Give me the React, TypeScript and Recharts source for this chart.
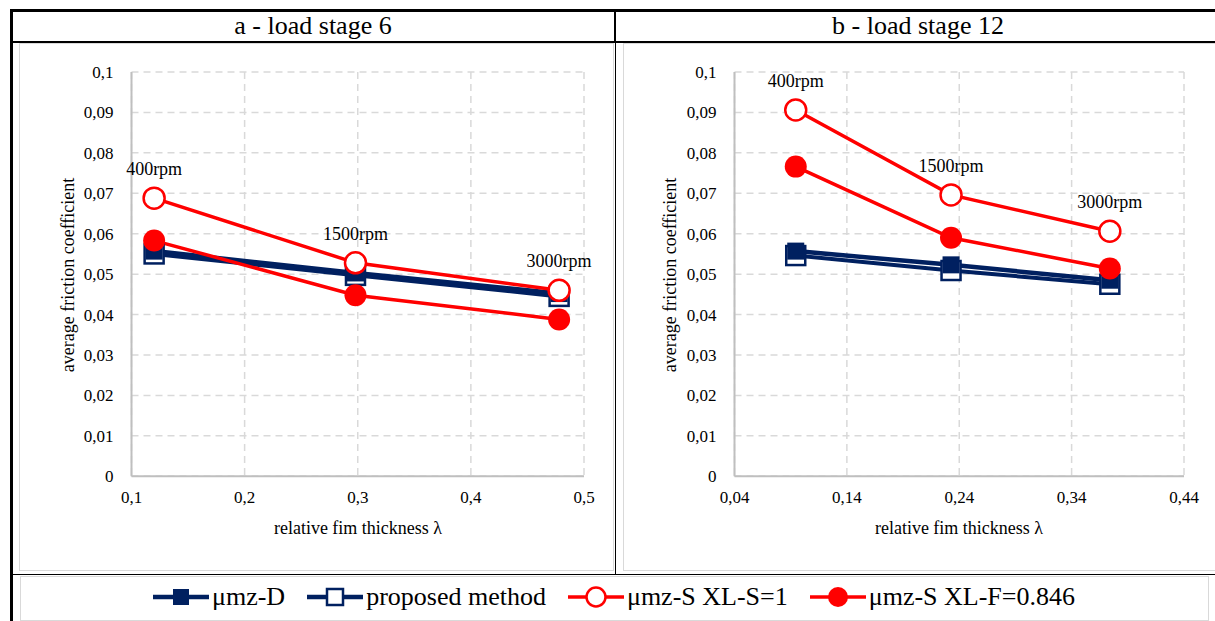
import React from 'react';
import { LineChart, Line, XAxis, YAxis, CartesianGrid, LabelList } from 'recharts';

// ---- data ----
const rpmLabels = ['400rpm', '1500rpm', '3000rpm'];

const lambdaA = [0.12, 0.298, 0.478];
const muD_A = [0.0557, 0.0503, 0.0452];
const proposed_A = [0.055, 0.0497, 0.0445];
const xlS_A = [0.0688, 0.0528, 0.046];
const xlF_A = [0.0583, 0.0448, 0.0388];

const lambdaB = [0.0945, 0.2327, 0.374];
const muD_B = [0.0557, 0.0523, 0.0485];
const proposed_B = [0.0546, 0.0509, 0.0475];
const xlS_B = [0.0906, 0.0696, 0.0606];
const xlF_B = [0.0766, 0.059, 0.0514];

const xTicksA = [0.1, 0.2, 0.3, 0.4, 0.5];
const xTicksB = [0.04, 0.14, 0.24, 0.34, 0.44];
const yTicks = [0, 0.01, 0.02, 0.03, 0.04, 0.05, 0.06, 0.07, 0.08, 0.09, 0.1];

const seriesNames = ['μmz-D', 'proposed method', 'μmz-S XL-S=1', 'μmz-S XL-F=0.846'];

// ---- style ----
const NAVY = '#002060';
const RED = '#FF0000';
const FONT = "'Liberation Serif', 'DejaVu Serif', serif";

const toRows = (xs: number[], ys: number[]) =>
  xs.map((x, i) => ({ x, y: ys[i], rpm: rpmLabels[i] }));

const fmt = (v: number) => (v === 0 ? '0' : String(v).replace('.', ','));

const FilledSquare = (p: any) => {
  const { cx, cy, index } = p;
  if (cx == null || cy == null) return <g key={index} />;
  return <rect key={index} x={cx - 8.5} y={cy - 8.5} width={17} height={17} fill={NAVY} />;
};
const OpenSquare = (p: any) => {
  const { cx, cy, index } = p;
  if (cx == null || cy == null) return <g key={index} />;
  return (
    <rect key={index} x={cx - 9.5} y={cy - 9.5} width={19} height={19} fill="#fff" stroke={NAVY} strokeWidth={2.5} />
  );
};
const OpenCircle = (p: any) => {
  const { cx, cy, index } = p;
  if (cx == null || cy == null) return <g key={index} />;
  return <circle key={index} cx={cx} cy={cy} r={10.5} fill="#fff" stroke={RED} strokeWidth={2.5} />;
};
const FilledCircle = (p: any) => {
  const { cx, cy, index } = p;
  if (cx == null || cy == null) return <g key={index} />;
  return <circle key={index} cx={cx} cy={cy} r={11} fill={RED} />;
};

const RpmLabel = (p: any) => {
  const { x, y, value } = p;
  return (
    <text x={x} y={y - 29 + 6} textAnchor="middle" style={{ fontFamily: FONT }} fontSize={18} fill="#000">
      {value}
    </text>
  );
};

type PanelProps = {
  left: number;
  width: number;
  marginLeft: number;
  marginRight: number;
  xs: number[];
  xTicks: number[];
  muD: number[];
  proposed: number[];
  xlS: number[];
  xlF: number[];
};

const Panel = ({ left, width, marginLeft, marginRight, xs, xTicks, muD, proposed, xlS, xlF }: PanelProps) => {
  const tickStyle = { fontFamily: FONT, fontSize: 17, fill: '#000', style: { fontFamily: FONT } };
  return (
    <div style={{ position: 'absolute', left, top: 0, fontFamily: FONT }}>
      <LineChart
        width={width}
        height={570}
        margin={{ top: 72, right: marginRight, left: marginLeft, bottom: 33.7 }}
        style={{ fontFamily: FONT }}
      >
        <CartesianGrid stroke="#d9d9d9" strokeWidth={1.5} strokeDasharray="7 5" />
        <XAxis
          type="number"
          dataKey="x"
          domain={[xTicks[0], xTicks[xTicks.length - 1]]}
          ticks={xTicks}
          tickFormatter={fmt}
          tick={tickStyle}
          tickLine={false}
          tickMargin={9}
          axisLine={{ stroke: '#bfbfbf', strokeWidth: 2 }}
          height={60}
          allowDataOverflow
        />
        <YAxis
          type="number"
          domain={[0, 0.1]}
          ticks={yTicks}
          tickFormatter={fmt}
          tick={tickStyle}
          tickLine={false}
          tickMargin={12}
          axisLine={{ stroke: '#bfbfbf', strokeWidth: 2 }}
          width={60}
          allowDataOverflow
        />
        <Line
          data={toRows(xs, proposed)}
          dataKey="y"
          name={seriesNames[1]}
          stroke={NAVY}
          strokeWidth={4}
          dot={OpenSquare}
          activeDot={false}
          isAnimationActive={false}
        />
        <Line
          data={toRows(xs, muD)}
          dataKey="y"
          name={seriesNames[0]}
          stroke={NAVY}
          strokeWidth={4.5}
          dot={FilledSquare}
          activeDot={false}
          isAnimationActive={false}
        />
        <Line
          data={toRows(xs, xlS)}
          dataKey="y"
          name={seriesNames[2]}
          stroke={RED}
          strokeWidth={3.5}
          dot={OpenCircle}
          activeDot={false}
          isAnimationActive={false}
        >
          <LabelList dataKey="rpm" content={RpmLabel} />
        </Line>
        <Line
          data={toRows(xs, xlF)}
          dataKey="y"
          name={seriesNames[3]}
          stroke={RED}
          strokeWidth={3.5}
          dot={FilledCircle}
          activeDot={false}
          isAnimationActive={false}
        />
      </LineChart>
    </div>
  );
};

const LegendIcon = ({ kind }: { kind: number }) => {
  const color = kind < 2 ? NAVY : RED;
  const sw = kind < 2 ? 4.5 : 3.5;
  return (
    <svg width={56} height={26} style={{ display: 'block' }}>
      <line x1={0} y1={13} x2={56} y2={13} stroke={color} strokeWidth={sw} />
      {kind === 0 && <rect x={20} y={5} width={16} height={16} fill={NAVY} />}
      {kind === 1 && <rect x={20} y={5} width={16} height={16} fill="#fff" stroke={NAVY} strokeWidth={2.5} />}
      {kind === 2 && <circle cx={28} cy={13} r={9.5} fill="#fff" stroke={RED} strokeWidth={2.5} />}
      {kind === 3 && <circle cx={28} cy={13} r={10} fill={RED} />}
    </svg>
  );
};

const textStyle: React.CSSProperties = { position: 'absolute', fontFamily: FONT, color: '#000', whiteSpace: 'nowrap' };

export default function App() {
  return (
    <div style={{ position: 'absolute', left: 0, top: 0, width: 1215, height: 621, overflow: 'hidden', background: '#fff', fontFamily: FONT }}>
      {/* panel boxes */}
      <div style={{ position: 'absolute', left: 19, top: 43, width: 595, height: 528, border: '1.5px solid #d9d9d9', boxSizing: 'border-box' }} />
      <div style={{ position: 'absolute', left: 623, top: 43, width: 600, height: 528, border: '1.5px solid #d9d9d9', boxSizing: 'border-box' }} />
      <div style={{ position: 'absolute', left: 20, top: 576, width: 1189, height: 45, border: '1.5px solid #d9d9d9', boxSizing: 'border-box' }} />

      <Panel left={0} width={620} marginLeft={71.5} marginRight={36} xs={lambdaA} xTicks={xTicksA}
        muD={muD_A} proposed={proposed_A} xlS={xlS_A} xlF={xlF_A} />
      <Panel left={615} width={600} marginLeft={59.5} marginRight={31} xs={lambdaB} xTicks={xTicksB}
        muD={muD_B} proposed={proposed_B} xlS={xlS_B} xlF={xlF_B} />

      {/* axis titles */}
      <div style={{ ...textStyle, left: 358, top: 528, fontSize: 18, transform: 'translate(-50%, -50%)' }}>relative fim thickness λ</div>
      <div style={{ ...textStyle, left: 959, top: 528, fontSize: 18, transform: 'translate(-50%, -50%)' }}>relative fim thickness λ</div>
      <div style={{ ...textStyle, left: 68, top: 275, fontSize: 18, transform: 'translate(-50%, -50%) rotate(-90deg)' }}>average friction coefficient</div>
      <div style={{ ...textStyle, left: 670, top: 275, fontSize: 18, transform: 'translate(-50%, -50%) rotate(-90deg)' }}>average friction coefficient</div>

      {/* titles */}
      <div style={{ ...textStyle, left: 313, top: 26, fontSize: 26, transform: 'translate(-50%, -50%)' }}>a - load stage 6</div>
      <div style={{ ...textStyle, left: 918, top: 26, fontSize: 26, transform: 'translate(-50%, -50%)' }}>b - load stage 12</div>

      {/* table lines */}
      <div style={{ position: 'absolute', left: 10, top: 9, width: 1210, height: 2.5, background: '#000' }} />
      <div style={{ position: 'absolute', left: 10, top: 9, width: 2.5, height: 620, background: '#000' }} />
      <div style={{ position: 'absolute', left: 11, top: 41, width: 1210, height: 1.5, background: '#000' }} />
      <div style={{ position: 'absolute', left: 614, top: 10, width: 2, height: 32, background: '#000' }} />
      <div style={{ position: 'absolute', left: 614.5, top: 41, width: 1.2, height: 534, background: '#000' }} />
      <div style={{ position: 'absolute', left: 11, top: 573.5, width: 1210, height: 1.5, background: '#000' }} />

      {/* legend */}
      <div style={{ position: 'absolute', left: 153, top: 597, transform: 'translateY(-50%)', display: 'flex', alignItems: 'center', fontFamily: FONT, fontSize: 26, whiteSpace: 'nowrap' }}>
        {seriesNames.map((n, i) => (
          <div key={n} style={{ display: 'flex', alignItems: 'center', marginRight: i < 3 ? 22 : 0 }}>
            <LegendIcon kind={i} />
            <span style={{ marginLeft: 3 }}>{n}</span>
          </div>
        ))}
      </div>
    </div>
  );
}
